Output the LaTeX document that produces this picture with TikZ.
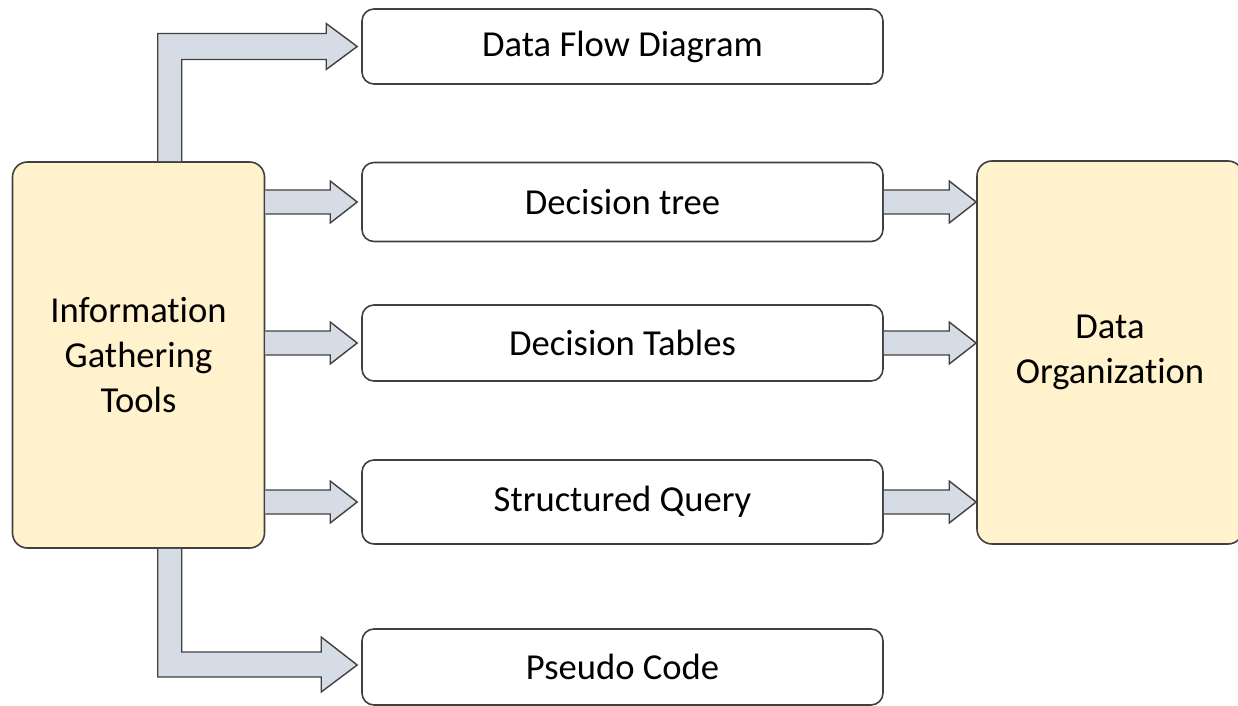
\documentclass[tikz,border=0pt]{standalone}
\usepackage{fontspec}
\setmainfont[Ligatures=NoCommon]{Carlito}
\usetikzlibrary{positioning, calc}

\definecolor{toolfill}{HTML}{FFF2CC}
\definecolor{arrowfill}{HTML}{D6DCE5}
\definecolor{edgegray}{HTML}{404040}

\def\px{0.5pt}

\tikzset{
    box/.style={draw=edgegray, line width=0.8pt, fill=white, rounded corners=6pt,
        minimum width=521*\px, align=center, inner sep=0pt,
        font=\fontsize{18.3}{22.5}\selectfont},
    bigbox/.style={box, fill=toolfill, rounded corners=7.5pt},
    blockarrow/.style={draw=edgegray, line width=0.7pt, fill=arrowfill, line join=miter}
}

% straight block arrow, left end left open
\newcommand{\blockarrow}[2]{
    \filldraw[blockarrow] ($(#1)+(0,-12)$) -- ($(#2)+(-27,-12)$) -- ($(#2)+(-27,-21)$)
        -- (#2) -- ($(#2)+(-27,21)$) -- ($(#2)+(-27,12)$) -- ($(#1)+(0,12)$);
}

\begin{document}
\begin{tikzpicture}[x=\px, y=-\px]
        \path[use as bounding box, clip] (0,0) rectangle (1238,706);

        % boxes
        \node[bigbox, minimum width=252*\px, minimum height=386*\px] (info) at (138.5,355) {Information\\Gathering\\Tools};
        \node[bigbox, minimum width=266*\px, minimum height=383*\px] (org) at (1110,352.5) {Data\\Organization};

        \node[box, minimum height=75*\px] (dfd) at (622.5,46.5) {Data Flow Diagram};
        \node[box, minimum height=79*\px] (tree) at (622.5,202) {Decision tree};
        \node[box, minimum height=76*\px] (tables) at (622.5,343) {Decision Tables};
        \node[box, minimum height=84*\px] (query) at (622.5,502) {Structured Query};
        \node[box, minimum height=76*\px] (pseudo) at (622.5,667) {Pseudo Code};

        % arrow tips
        \coordinate (dfdtip) at ($(dfd.west)+(-4,0)$);
        \coordinate (pseudotip) at ($(pseudo.west)+(-4,-2)$);

        % bent arrows
        \filldraw[blockarrow] ($(info.north west)+(146,0)$) |- ($(dfdtip)+(-31,-13)$) -- ++(0,-10)
            -- (dfdtip) -- ($(dfdtip)+(-31,23)$) -- ++(0,-10) -| ($(info.north west)+(170,0)$);
        \filldraw[blockarrow] ($(info.south west)+(146,0)$) |- ($(pseudotip)+(-36,12)$) -- ++(0,15)
            -- (pseudotip) -- ($(pseudotip)+(-36,-28)$) -- ++(0,15) -| ($(info.south west)+(170,0)$);

        % straight arrows
        \foreach \target in {tree,tables,query}
        {
            \coordinate (a) at (info.east |- \target.west);
            \coordinate (b) at ($(\target.west)+(-4,0)$);
            \blockarrow{a}{b}
            \coordinate (c) at (\target.east);
            \coordinate (d) at (org.west |- \target.east);
            \blockarrow{c}{d}
        }
    \end{tikzpicture}
\end{document}
